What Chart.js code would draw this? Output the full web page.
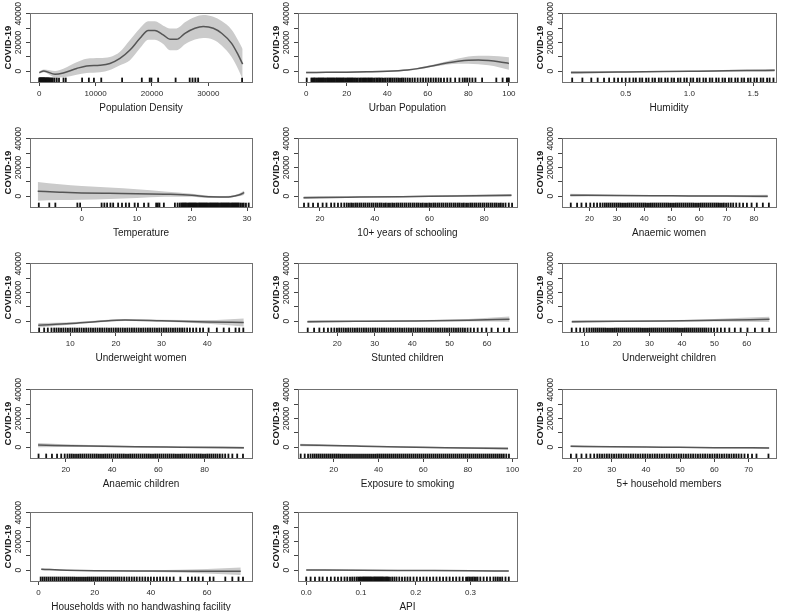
<!DOCTYPE html>
<html><head><meta charset="utf-8">
<script src="https://cdn.jsdelivr.net/npm/chart.js@4/dist/chart.umd.min.js"></script>
<style>html,body{margin:0;padding:0;background:#fff;width:786px;height:611px;overflow:hidden;position:relative}canvas{position:absolute}</style>
</head><body>
<script>
// ---------- DATA ----------
const panelTitles = ['Population Density','Urban Population','Humidity','Temperature','10+ years of schooling','Anaemic women','Underweight women','Stunted children','Underweight children','Anaemic children','Exposure to smoking','5+ household members','Households with no handwashing facility','API'];
const yTickValues = [0,10000,20000,30000,40000];
const yTickLabels = ['0','','20000','','40000'];
const yAxisTitle = 'COVID-19';

const popX  = [0,800,2800,4260,6630,8400,10770,12540,14320,16100,17870,19350,20530,22000,23200,24380,25860,27630,29110,30890,32370,34140,35330,36100];
const popFit= [-1000,200,-2100,-1200,1900,3700,4200,5400,8900,14700,22900,28300,28300,25300,22200,22200,26400,29900,31100,29900,26400,19400,11200,4900];
const popLo = [-1900,-800,-4400,-4200,-2400,-1300,-800,900,4200,7700,15900,21900,21900,18900,14600,14600,18800,22100,23100,21900,17900,9900,1200,-5600];
const popHi = [-100,1200,200,1800,6200,8700,9200,9900,13600,21700,29900,34700,34700,31700,29800,29800,34000,37700,39100,37900,34900,28900,21200,15400];
const popRug = [0,60,120,180,240,300,360,420,480,540,600,660,720,780,840,900,960,1020,1100,1180,1260,1340,1420,1500,1600,1700,1800,1900,2050,2200,2400,2700,3100,3500,4300,4700,7600,8800,9700,11000,14700,18200,19600,19900,21100,24200,26700,27200,27700,28200,36000];
const popTicks = [0,10000,20000,30000];

const urbX  = [0,10,20,30,40,50,55,60,65,70,75,80,85,90,95,100];
const urbFit= [-900,-800,-700,-400,0,900,1800,3100,4500,5900,7000,7700,7800,7400,6600,5400];
const urbLo = [-1500,-1300,-1200,-900,-500,400,1200,2400,3600,4700,5200,5200,4800,4100,2800,1100];
const urbHi = [-300,-300,-200,100,500,1400,2400,3800,5400,7100,8800,10200,10800,10700,10400,9700];
const urbRug = [0.3,2.6,3.2,3.8,4.3,4.9,5.4,6.0,6.5,7.1,7.6,8.2,8.7,9.3,9.8,10.4,10.9,11.5,12.0,12.6,13.1,13.7,14.2,14.8,15.3,15.9,16.4,17.0,17.5,18.1,18.6,19.2,19.7,20.3,20.8,21.4,21.9,22.5,23.0,23.6,24.1,24.7,25.5,26.3,27.0,27.6,28.2,28.8,29.4,30.0,30.6,31.2,31.8,32.4,33.0,33.8,34.6,35.3,36.0,36.7,37.5,38.4,39.2,40.1,41.0,41.8,42.7,43.6,44.5,45.4,46.3,47.2,48.0,49.0,50.1,51.2,52.4,53.6,55.0,56.4,57.7,59.0,60.3,61.5,62.8,64.0,65.3,66.5,68.0,69.6,71.2,73.5,75.6,77.2,78.3,79.4,80.6,82.0,83.5,86.8,93.8,96.9,99.0,99.6,100];
const urbTicks = [0,20,40,60,80,100];

const humX  = [0.07,0.3,0.5,0.8,1.0,1.2,1.45,1.67];
const humFit= [-900,-700,-500,-200,0,200,500,600];
const humLo = [-1900,-1400,-1000,-600,-400,-300,-200,-300];
const humHi = [100,0,0,200,400,700,1200,1500];
const humRug = [0.08,0.16,0.23,0.28,0.33,0.37,0.41,0.44,0.47,0.5,0.53,0.56,0.58,0.61,0.63,0.66,0.68,0.71,0.73,0.76,0.78,0.81,0.83,0.86,0.88,0.91,0.93,0.96,0.98,1.01,1.03,1.06,1.08,1.11,1.13,1.16,1.18,1.21,1.23,1.26,1.28,1.31,1.33,1.36,1.38,1.41,1.43,1.46,1.48,1.51,1.53,1.56,1.58,1.61,1.63,1.66];
const humTicks = [0.5,1.0,1.5];

const tmpX  = [-8,-4,0,5,10,15,20,23,25,27,28.5,29.5];
const tmpFit= [3400,2800,2300,2000,1800,1400,700,-400,-500,-300,800,2500];
const tmpLo = [-3100,-2700,-2500,-2000,-1200,-400,-300,-1200,-1200,-1000,-100,1100];
const tmpHi = [9900,8300,7100,6000,4800,3200,1700,400,200,400,1700,3900];
const tmpRug = [-7.8,-5.9,-4.8,-0.8,-0.3,3.6,4.1,4.6,5.2,5.7,6.6,7.3,8.0,8.6,9.6,10.2,11.3,12.1,13.5,13.8,14.1,14.9,16.9,17.4,17.8,18.1,18.3,18.5,18.7,18.9,19.1,19.3,19.5,19.7,19.9,20.1,20.3,20.5,20.7,20.9,21.1,21.3,21.5,21.7,21.9,22.1,22.3,22.5,22.7,22.9,23.1,23.3,23.5,23.7,23.9,24.1,24.3,24.5,24.7,24.9,25.1,25.3,25.5,25.7,25.9,26.1,26.3,26.5,26.7,26.9,27.1,27.3,27.5,27.7,27.9,28.1,28.3,28.5,28.8,29.1,29.4,29.8,30.3];
const tmpTicks = [0,10,20,30];

const schX  = [14,30,50,70,90];
const schFit= [-1000,-700,-300,200,600];
const schLo = [-2000,-1300,-800,-400,-300];
const schHi = [0,-100,200,800,1500];
const schRug = [14.2,15.8,17.5,19.3,21.0,22.4,24.1,25.3,26.6,27.8,28.9,29.8,30.6,31.4,32.1,32.9,33.6,34.4,35.1,35.9,36.6,37.4,38.1,38.9,39.6,40.4,41.1,41.9,42.6,43.4,44.1,44.9,45.6,46.4,47.1,47.9,48.6,49.4,50.1,50.9,51.6,52.4,53.1,53.9,54.6,55.4,56.1,56.9,57.6,58.4,59.1,59.9,60.6,61.4,62.1,62.9,63.6,64.4,65.1,65.9,66.6,67.4,68.1,68.9,69.6,70.4,71.1,71.9,72.6,73.4,74.1,74.9,75.6,76.4,77.1,77.9,78.6,79.4,80.1,80.9,81.6,82.4,83.1,83.9,84.6,85.4,86.1,86.9,87.8,89.0,90.2];
const schTicks = [20,40,60,80];

const awX  = [13,30,50,70,85];
const awFit= [700,500,300,100,0];
const awLo = [-300,-100,-200,-600,-1000];
const awHi = [1700,1100,800,800,1000];
const awRug = [13.2,15.5,17.1,18.8,20.3,21.6,22.8,23.9,24.8,25.6,26.3,27.0,27.7,28.4,29.1,29.8,30.5,31.2,31.9,32.6,33.3,34.0,34.7,35.4,36.1,36.8,37.5,38.2,38.9,39.6,40.3,41.0,41.7,42.4,43.1,43.8,44.5,45.2,45.9,46.6,47.3,48.0,48.7,49.4,50.1,50.8,51.5,52.2,52.9,53.6,54.3,55.0,55.7,56.4,57.1,57.8,58.5,59.2,59.9,60.6,61.3,62.0,62.7,63.4,64.1,64.8,65.5,66.2,66.9,67.6,68.3,69.0,69.8,70.6,71.5,72.4,73.5,74.7,76.0,77.4,79.1,81.0,83.2,85.4];
const awTicks = [20,30,40,50,60,70,80];

const uwwX  = [3,10,16,22,30,40,48];
const uwwFit= [-2800,-1600,-200,900,300,-500,-900];
const uwwLo = [-4300,-2500,-900,200,-400,-1800,-3700];
const uwwHi = [-1300,-700,500,1600,1000,800,1900];
const uwwRug = [3.2,4.3,5.1,5.9,6.5,7.0,7.5,8.0,8.5,9.0,9.5,10.0,10.5,11.0,11.5,12.0,12.5,13.0,13.5,14.0,14.5,15.0,15.5,16.0,16.5,17.0,17.5,18.0,18.5,19.0,19.5,20.0,20.5,21.0,21.5,22.0,22.5,23.0,23.5,24.0,24.5,25.0,25.5,26.0,26.5,27.0,27.5,28.0,28.5,29.0,29.5,30.0,30.5,31.0,31.5,32.0,32.5,33.0,33.5,34.0,34.5,35.0,35.6,36.2,36.9,37.6,38.4,39.1,40.3,42.1,43.6,44.8,46.2,47.0,47.9];
const uwwTicks = [10,20,30,40];

const stX  = [12,25,40,55,66];
const stFit= [-300,-100,200,700,1400];
const stLo = [-1200,-600,-300,-200,-400];
const stHi = [600,400,700,1600,3200];
const stRug = [12.1,13.8,15.2,16.4,17.5,18.4,19.2,19.9,20.5,21.1,21.7,22.3,22.9,23.5,24.1,24.7,25.3,25.9,26.5,27.1,27.7,28.3,28.9,29.5,30.1,30.7,31.3,31.9,32.5,33.1,33.7,34.3,34.9,35.5,36.1,36.7,37.3,37.9,38.5,39.1,39.7,40.3,40.9,41.5,42.1,42.7,43.3,43.9,44.5,45.1,45.7,46.3,46.9,47.5,48.1,48.7,49.3,49.9,50.5,51.1,51.7,52.3,52.9,53.5,54.1,54.8,55.6,56.5,57.5,58.6,59.8,61.2,62.9,64.5,65.9];
const stTicks = [20,30,40,50,60];

const uwcX  = [6,20,35,50,67];
const uwcFit= [-300,-100,200,700,1300];
const uwcLo = [-1200,-600,-300,-200,-500];
const uwcHi = [600,400,700,1600,3100];
const uwcRug = [6.0,7.4,8.6,9.7,10.6,11.4,12.1,12.7,13.3,13.9,14.5,15.1,15.7,16.3,16.9,17.5,18.1,18.7,19.3,19.9,20.5,21.1,21.7,22.3,22.9,23.5,24.1,24.7,25.3,25.9,26.5,27.1,27.7,28.3,28.9,29.5,30.1,30.7,31.3,31.9,32.5,33.1,33.7,34.3,34.9,35.5,36.1,36.7,37.3,37.9,38.5,39.1,39.7,40.3,40.9,41.5,42.1,42.7,43.3,43.9,44.5,45.1,45.7,46.3,46.9,47.5,48.2,49.0,49.9,50.9,52.0,53.2,54.6,56.3,58.1,60.2,62.5,64.8,66.9];
const uwcTicks = [10,20,30,40,50,60];

const acX  = [8,30,50,70,97];
const acFit= [1500,800,300,0,-400];
const acLo = [0,100,-200,-500,-1200];
const acHi = [3000,1500,800,500,400];
const acRug = [8.2,11.5,14.0,16.2,18.0,19.5,20.7,21.7,22.6,23.5,24.4,25.3,26.2,27.1,28.0,28.9,29.8,30.7,31.6,32.5,33.4,34.3,35.2,36.1,37.0,37.9,38.8,39.7,40.6,41.5,42.4,43.3,44.2,45.1,46.0,46.9,47.8,48.7,49.6,50.5,51.4,52.3,53.2,54.1,55.0,55.9,56.8,57.7,58.6,59.5,60.4,61.3,62.2,63.1,64.0,64.9,65.8,66.7,67.6,68.5,69.4,70.3,71.2,72.1,73.0,73.9,74.8,75.7,76.6,77.5,78.4,79.3,80.2,81.1,82.0,82.9,83.8,84.7,85.6,86.6,87.7,88.9,90.3,92.0,94.1,96.6];
const acTicks = [20,40,60,80];

const smX  = [5,30,50,70,98];
const smFit= [1600,800,200,-300,-900];
const smLo = [700,300,-200,-800,-1800];
const smHi = [2500,1300,600,200,0];
const smRug = [5.2,7.0,8.5,9.6,10.6,11.5,12.4,13.3,14.2,15.1,16.0,16.9,17.8,18.7,19.6,20.5,21.4,22.3,23.2,24.1,25.0,25.9,26.8,27.7,28.6,29.5,30.4,31.3,32.2,33.1,34.0,34.9,35.8,36.7,37.6,38.5,39.4,40.3,41.2,42.1,43.0,43.9,44.8,45.7,46.6,47.5,48.4,49.3,50.2,51.1,52.0,52.9,53.8,54.7,55.6,56.5,57.4,58.3,59.2,60.1,61.0,61.9,62.8,63.7,64.6,65.5,66.4,67.3,68.2,69.1,70.0,70.9,71.8,72.7,73.6,74.5,75.4,76.3,77.2,78.1,79.0,79.9,80.8,81.7,82.6,83.5,84.4,85.3,86.2,87.1,88.0,88.9,89.8,90.7,91.6,92.5,93.4,94.3,95.2,96.1,97.2,98.4];
const smTicks = [20,40,60,80,100];

const hhX  = [18,30,45,60,76];
const hhFit= [700,300,0,-300,-500];
const hhLo = [0,-100,-400,-700,-1200];
const hhHi = [1400,700,400,100,200];
const hhRug = [18.1,19.7,21.2,22.6,23.8,24.9,25.8,26.5,27.2,27.9,28.6,29.3,30.0,30.7,31.4,32.1,32.8,33.5,34.2,34.9,35.6,36.3,37.0,37.7,38.4,39.1,39.8,40.5,41.2,41.9,42.6,43.3,44.0,44.7,45.4,46.1,46.8,47.5,48.2,48.9,49.6,50.3,51.0,51.7,52.4,53.1,53.8,54.5,55.2,55.9,56.6,57.3,58.0,58.7,59.4,60.1,60.8,61.5,62.2,62.9,63.6,64.3,65.0,65.7,66.4,67.1,67.9,68.8,69.8,71.0,72.3,75.8];
const hhTicks = [20,30,40,50,60,70];

const hwX  = [1,10,20,40,60,72];
const hwFit= [700,0,-400,-600,-700,-700];
const hwLo = [0,-400,-800,-1200,-2200,-3300];
const hwHi = [1400,400,0,0,800,1900];
const hwRug = [0.8,1.5,2.2,2.9,3.6,4.3,5.0,5.7,6.4,7.1,7.8,8.5,9.2,9.9,10.6,11.3,12.0,12.7,13.4,14.1,14.8,15.5,16.2,16.9,17.6,18.3,19.0,19.7,20.4,21.1,21.8,22.5,23.2,23.9,24.6,25.3,26.0,26.7,27.4,28.1,28.8,29.6,30.5,31.4,32.3,33.2,34.1,35.0,36.0,37.0,38.0,39.0,40.0,41.1,42.2,43.3,44.4,45.6,46.8,48.1,50.5,53.2,54.6,55.8,57.0,58.5,61.0,62.3,66.5,69.0,71.2,72.8];
const hwTicks = [0,20,40,60];

const apiX  = [0,0.1,0.2,0.3,0.37];
const apiFit= [100,0,-200,-400,-500];
const apiLo = [-400,-300,-500,-800,-1100];
const apiHi = [600,300,100,0,100];
const apiRug = [0.0,0.008,0.016,0.024,0.03,0.038,0.045,0.052,0.058,0.064,0.07,0.075,0.08,0.084,0.088,0.092,0.095,0.098,0.1,0.102,0.104,0.106,0.108,0.11,0.112,0.114,0.116,0.118,0.12,0.122,0.124,0.126,0.128,0.13,0.132,0.134,0.136,0.138,0.14,0.142,0.144,0.146,0.148,0.15,0.153,0.157,0.161,0.165,0.17,0.175,0.18,0.185,0.19,0.196,0.202,0.208,0.214,0.22,0.226,0.232,0.238,0.244,0.25,0.256,0.262,0.268,0.274,0.28,0.286,0.292,0.295,0.298,0.301,0.304,0.307,0.31,0.313,0.318,0.324,0.33,0.336,0.342,0.346,0.35,0.354,0.358,0.364,0.37];
const apiTicks = [0.0,0.1,0.2,0.3];

// x-axis ranges (min, max) per panel
const xRanges = [[-1650,37760],[-4,104],[0.0,1.68],[-9.4,30.9],[12,92],[10,88],[1.2,49.8],[9.5,68],[3,69],[4.5,100.5],[4,102],[15.5,78],[-3,76],[-0.015,0.385]];
const decimalPanels = [2,13];

// ---------- LAYOUT ----------
const Y_MIN = -7500, Y_MAX = 40500;
const boxLeft = [30,298,562], boxWidth = [222,219,214];
const boxTop = [13,138,263,389,512], BOX_H = 69;
const FONT = "'Liberation Sans', Arial, sans-serif";

const series = [
 [popX,popFit,popLo,popHi,popRug,popTicks],
 [urbX,urbFit,urbLo,urbHi,urbRug,urbTicks],
 [humX,humFit,humLo,humHi,humRug,humTicks],
 [tmpX,tmpFit,tmpLo,tmpHi,tmpRug,tmpTicks],
 [schX,schFit,schLo,schHi,schRug,schTicks],
 [awX,awFit,awLo,awHi,awRug,awTicks],
 [uwwX,uwwFit,uwwLo,uwwHi,uwwRug,uwwTicks],
 [stX,stFit,stLo,stHi,stRug,stTicks],
 [uwcX,uwcFit,uwcLo,uwcHi,uwcRug,uwcTicks],
 [acX,acFit,acLo,acHi,acRug,acTicks],
 [smX,smFit,smLo,smHi,smRug,smTicks],
 [hhX,hhFit,hhLo,hhHi,hhRug,hhTicks],
 [hwX,hwFit,hwLo,hwHi,hwRug,hwTicks],
 [apiX,apiFit,apiLo,apiHi,apiRug,apiTicks]
];

const decoPlugin = {
  id: 'deco',
  afterDraw(chart) {
    const {ctx, chartArea: a, scales} = chart;
    ctx.save();
    ctx.strokeStyle = '#707070';
    ctx.lineWidth = 1;
    ctx.strokeRect(Math.round(a.left)+0.5, Math.round(a.top)+0.5, Math.round(a.right-a.left), Math.round(a.bottom-a.top));
    ctx.fillStyle = '#2a2a2a';
    ctx.font = '8.5px ' + FONT;
    ctx.textAlign = 'center';
    ctx.textBaseline = 'middle';
    yTickValues.forEach((v, k) => {
      const lab = yTickLabels[k];
      if (!lab) return;
      const y = scales.y.getPixelForValue(v);
      ctx.save();
      ctx.translate(a.left - 11, y);
      ctx.rotate(-Math.PI/2);
      ctx.fillText(lab, 0, 0);
      ctx.restore();
    });
    ctx.restore();
  }
};

series.forEach((s, i) => {
  const [xs, fit, lo, hi, rug, ticks] = s;
  const col = i % 3, row = Math.floor(i / 3);
  const cv = document.createElement('canvas');
  const W = boxWidth[col] + 30 + 8, H = 13 + BOX_H + 36;
  cv.width = W; cv.height = H;
  cv.style.left = (boxLeft[col] - 30) + 'px';
  cv.style.top = (boxTop[row] - 13) + 'px';
  cv.style.width = W + 'px'; cv.style.height = H + 'px';
  document.body.appendChild(cv);
  const pts = (ys) => xs.map((x, k) => ({x, y: ys[k]}));
  const dec = decimalPanels.includes(i);
  new Chart(cv, {
    type: 'line',
    data: {
      datasets: [
        {data: rug.map(v => ({x: v, y: -6000})), showLine: false, pointStyle: 'line', pointRotation: 90, pointRadius: 2.2, pointBorderColor: '#111', pointBorderWidth: 1.8, pointBackgroundColor: '#111', clip: false},
        {data: pts(fit), borderWidth: 1.5, borderColor: '#555555', pointRadius: 0, fill: false, tension: 0.4, cubicInterpolationMode: 'monotone'},
        {data: pts(lo), borderWidth: 0, borderColor: 'rgba(0,0,0,0)', pointRadius: 0, fill: false, tension: 0.4, cubicInterpolationMode: 'monotone'},
        {data: pts(hi), borderWidth: 0, borderColor: 'rgba(0,0,0,0)', pointRadius: 0, fill: '-1', backgroundColor: '#cbcbcb', tension: 0.4, cubicInterpolationMode: 'monotone'}
      ]
    },
    options: {
      responsive: false, animation: false, devicePixelRatio: 1,
      layout: {padding: {top: 13, right: 8, left: 0, bottom: 0}},
      plugins: {legend: {display: false}, tooltip: {enabled: false}},
      scales: {
        x: {
          type: 'linear', min: xRanges[i][0], max: xRanges[i][1],
          afterBuildTicks: (sc) => { sc.ticks = ticks.map(v => ({value: v})); },
          afterFit: (sc) => { sc.height = 36; },
          grid: {display: true, drawOnChartArea: false, drawTicks: true, tickLength: 4, color: '#444'},
          border: {display: false},
          ticks: {autoSkip: false, maxRotation: 0, minRotation: 0, padding: 3, color: '#2a2a2a', font: {size: 8, family: FONT},
                  callback: (v) => dec ? Number(v).toFixed(1) : String(v)},
          title: {display: true, text: panelTitles[i], color: '#1a1a1a', font: {size: 10, family: FONT}, padding: {top: 2, bottom: 4}}
        },
        y: {
          type: 'linear', min: Y_MIN, max: Y_MAX,
          afterBuildTicks: (sc) => { sc.ticks = yTickValues.map(v => ({value: v})); },
          afterFit: (sc) => { sc.width = 30; },
          grid: {display: true, drawOnChartArea: false, drawTicks: true, tickLength: 4, color: '#444'},
          border: {display: false},
          ticks: {callback: () => '', padding: 0, font: {size: 8}},
          title: {display: true, text: yAxisTitle, color: '#1a1a1a', font: {size: 9.5, weight: 'bold', family: FONT}, padding: {top: 3, bottom: 3}}
        }
      }
    },
    plugins: [decoPlugin]
  });
});
</script>
</body></html>
